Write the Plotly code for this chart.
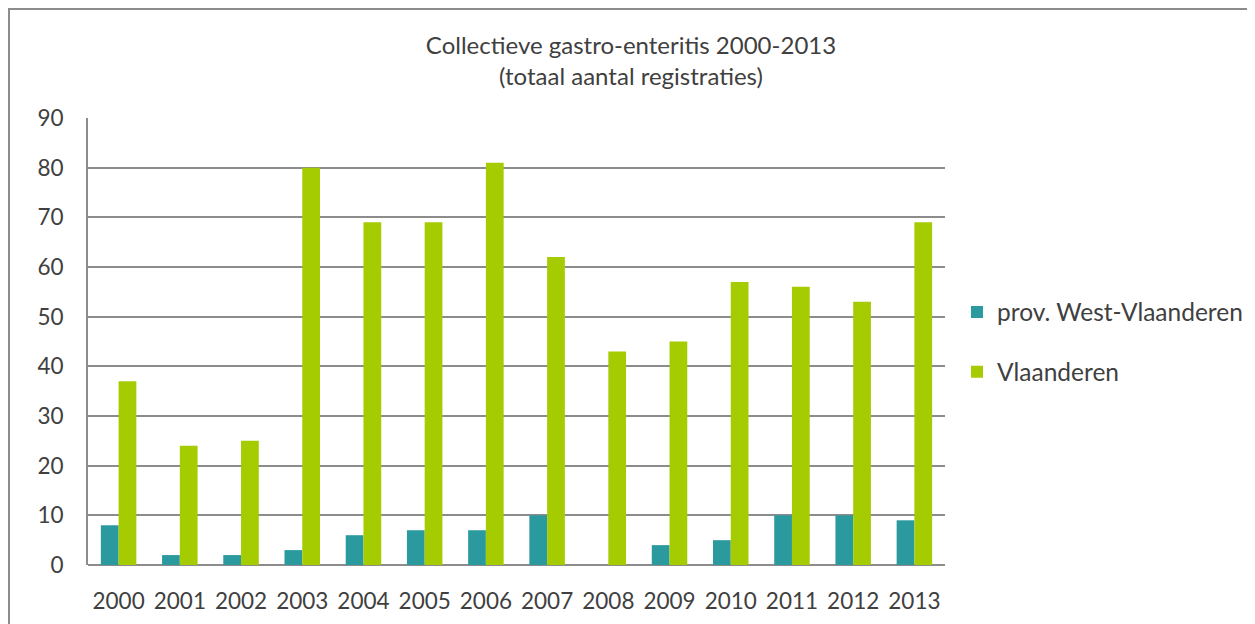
import plotly.graph_objects as go

years = [str(y) for y in range(2000, 2014)]
west_vlaanderen = [8, 2, 2, 3, 6, 7, 7, 10, 0, 4, 5, 10, 10, 9]
vlaanderen = [37, 24, 25, 80, 69, 69, 81, 62, 43, 45, 57, 56, 53, 69]

OFF = 8  # page body margin
W, H = 1255 - OFF, 624 - OFF
L, T = 88 - OFF, 118 - OFF
R = W - (945 - OFF)
B = H - (565 - OFF)
pw, ph = W - L - R, H - T - B

fig = go.Figure()
fig.add_trace(go.Bar(x=years, y=west_vlaanderen, name="prov. West-Vlaanderen",
                     marker=dict(color="#2B9A9E", line=dict(width=0)), legendgroup="a"))
fig.add_trace(go.Bar(x=years, y=vlaanderen, name="Vlaanderen",
                     marker=dict(color="#A4CC00", line=dict(width=0)), legendgroup="b"))

font_fam = "Lato, 'Open Sans', sans-serif"
fig.update_layout(
    width=W, height=H,
    margin=dict(l=L, r=R, t=T, b=B, autoexpand=False),
    paper_bgcolor="white", plot_bgcolor="white",
    barmode="group", bargap=0.42, bargroupgap=0,
    font=dict(family=font_fam, color="#404040", size=22),
    title=dict(text="Collectieve gastro-enteritis 2000-2013<br>(totaal aantal registraties)",
               x=(631 - OFF) / W, xanchor="center", y=1 - (54 - OFF) / H, yanchor="middle",
               font=dict(size=24, color="#404040")),
    legend=dict(x=(957 - 88) / pw, xanchor="left", y=(565 - 342) / ph, yanchor="middle",
                font=dict(size=24.5, color="#404040"), tracegroupgap=25,
                itemwidth=30, bgcolor="rgba(0,0,0,0)"),
    showlegend=True,
)
fig.update_xaxes(showline=False, ticks="", tickfont=dict(size=22.5), ticklabelstandoff=20,
                 automargin=False)
fig.update_yaxes(range=[0, 90], dtick=10, showgrid=True, gridcolor="#8C8C8C", gridwidth=2,
                 showline=True, linecolor="#8C8C8C", linewidth=2, zeroline=True,
                 zerolinecolor="#8C8C8C", zerolinewidth=2, tickfont=dict(size=22.5),
                 ticks="", ticklabelstandoff=18, automargin=False)
fig.add_shape(type="rect", xref="paper", yref="paper",
              x0=(1 - L) / pw, x1=(W + 10 - L) / pw,
              y0=-(B + 10) / ph, y1=1 + (T - 1) / ph,
              line=dict(color="#8C8C8C", width=2), fillcolor="rgba(0,0,0,0)", layer="below")

fig.write_html("out.html")
